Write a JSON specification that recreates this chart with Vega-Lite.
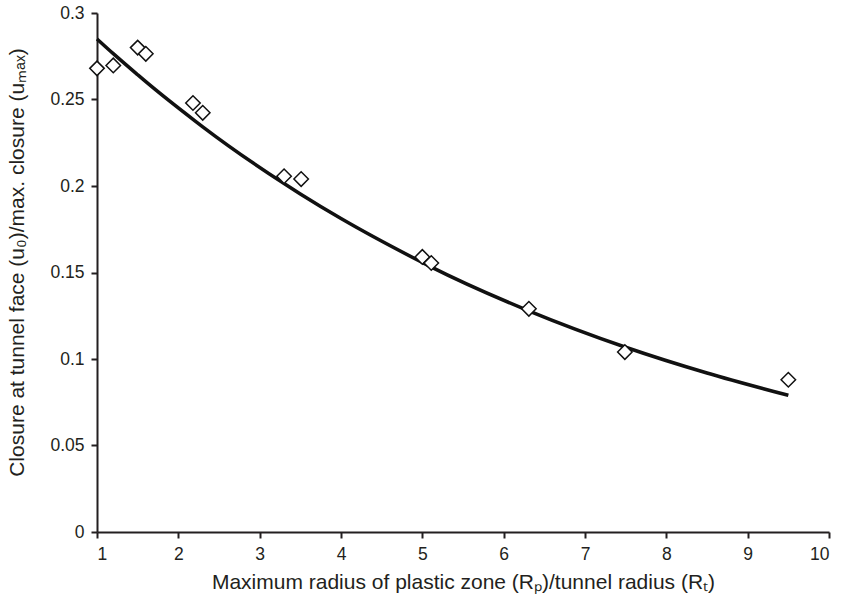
{
  "$schema": "https://vega.github.io/schema/vega-lite/v6.json",
  "width": 732,
  "height": 519,
  "autosize": "none",
  "padding": {"left": 97, "top": 13, "right": 14, "bottom": 69},
  "background": "white",
  "config": {
    "view": {"stroke": null},
    "font": "Liberation Sans",
    "axis": {
      "grid": false,
      "domainColor": "#231f20",
      "domainWidth": 2,
      "tickColor": "#231f20",
      "tickWidth": 2,
      "tickSize": 6,
      "labelColor": "#231f20",
      "titleColor": "#231f20",
      "labelFont": "Liberation Sans",
      "titleFont": "Liberation Sans",
      "labelFontSize": 17.5,
      "titleFontSize": 21,
      "titleFontWeight": "normal",
      "labelPadding": 7
    }
  },
  "datasets": {
    "obs": [
      {"x": 1.0, "y": 0.268},
      {"x": 1.2, "y": 0.2697},
      {"x": 1.5, "y": 0.280},
      {"x": 1.6, "y": 0.2764},
      {"x": 2.18, "y": 0.248},
      {"x": 2.3, "y": 0.2423},
      {"x": 3.3, "y": 0.2056},
      {"x": 3.51, "y": 0.204},
      {"x": 5.0, "y": 0.159},
      {"x": 5.11, "y": 0.1555},
      {"x": 6.31, "y": 0.129},
      {"x": 7.49, "y": 0.104},
      {"x": 9.5, "y": 0.088}
    ],
    "fit": [
      {"x": 1.0, "y": 0.285},
      {"x": 1.2, "y": 0.2765},
      {"x": 1.5, "y": 0.2643},
      {"x": 1.6, "y": 0.2603},
      {"x": 2.2, "y": 0.2378},
      {"x": 2.3, "y": 0.2342},
      {"x": 3.3, "y": 0.2014},
      {"x": 3.5, "y": 0.1954},
      {"x": 4.0, "y": 0.1812},
      {"x": 5.0, "y": 0.1558},
      {"x": 5.1, "y": 0.1534},
      {"x": 6.3, "y": 0.128},
      {"x": 7.5, "y": 0.1068},
      {"x": 8.5, "y": 0.0919},
      {"x": 9.5, "y": 0.079}
    ]
  },
  "layer": [
    {
      "data": {"name": "fit"},
      "mark": {"type": "line", "color": "#111", "strokeWidth": 3.5, "interpolate": "monotone"},
      "encoding": {
        "x": {
          "field": "x", "type": "quantitative",
          "scale": {"domain": [1, 10], "nice": false, "zero": false},
          "axis": {"values": [1,2,3,4,5,6,7,8,9,10], "format": "d", "title": "Maximum radius of plastic zone (Rₚ)/tunnel radius (Rₜ)", "titlePadding": 9}
        },
        "y": {
          "field": "y", "type": "quantitative",
          "scale": {"domain": [0, 0.3], "nice": false},
          "axis": {"values": [0, 0.05, 0.1, 0.15, 0.2, 0.25, 0.3], "format": ".2~f", "title": "Closure at tunnel face (u₀)/max. closure (uₘₐₓ)", "titlePadding": 22, "titleY": 249}
        }
      }
    },
    {
      "data": {"name": "obs"},
      "mark": {"type": "point", "shape": "diamond", "filled": true, "fill": "white", "stroke": "#111", "strokeWidth": 1.5, "size": 210, "opacity": 1},
      "encoding": {
        "x": {"field": "x", "type": "quantitative"},
        "y": {"field": "y", "type": "quantitative"}
      }
    }
  ]
}
